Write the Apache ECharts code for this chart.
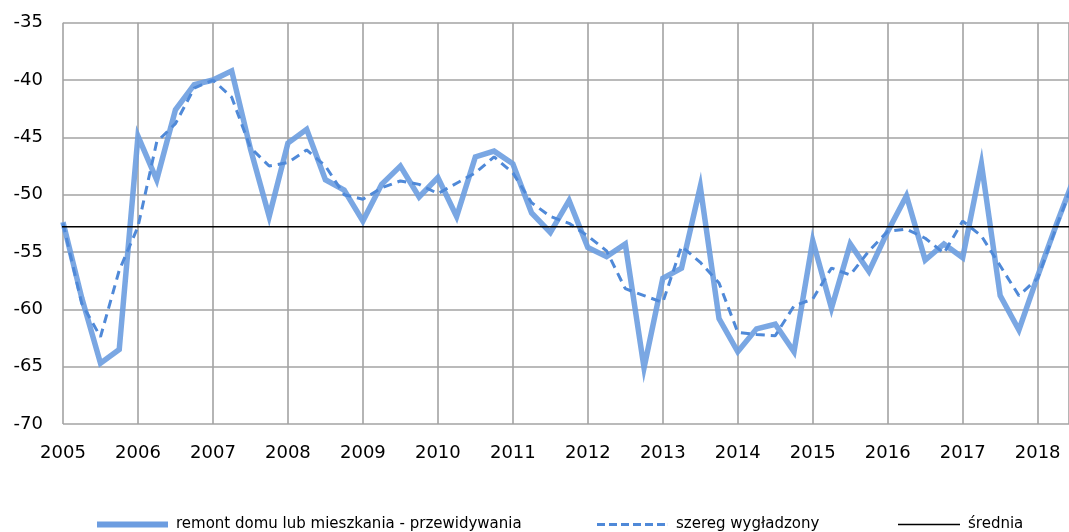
<!DOCTYPE html>
<html>
<head>
<meta charset="utf-8">
<script src="https://cdn.jsdelivr.net/npm/echarts@6/dist/echarts.min.js"></script>
<style>
  html, body { margin: 0; padding: 0; background: #fff; }
  #chart { width: 1069px; height: 532px; }
</style>
</head>
<body>
<div id="chart"></div>
<script>
// Quarterly survey balance, first quarter of 2005 onward
const startYear = 2005;
const yearTicks = [2005, 2006, 2007, 2008, 2009, 2010, 2011, 2012, 2013, 2014, 2015, 2016, 2017, 2018];

const przewidywania = [
  -52.4, -59.0, -64.7, -63.5,
  -44.9, -48.7, -42.6, -40.4,
  -40.0, -39.2, -46.0, -51.9,
  -45.5, -44.3, -48.7, -49.6,
  -52.3, -49.1, -47.5, -50.2,
  -48.5, -51.9, -46.7, -46.2,
  -47.3, -51.6, -53.3, -50.5,
  -54.6, -55.4, -54.3, -65.1,
  -57.3, -56.4, -49.3, -60.8,
  -63.7, -61.7, -61.3, -63.7,
  -54.0, -59.9, -54.3, -56.7,
  -53.2, -50.1, -55.7, -54.3,
  -55.5, -47.3, -58.8, -61.8,
  -57.1, -52.6, -48.3
];

const wygladzony = [
  -52.5, -59.5, -62.4, -56.6,
  -52.8, -45.4, -43.8, -40.7,
  -40.0, -41.5, -45.9, -47.5,
  -47.2, -46.1, -47.5, -50.0,
  -50.4, -49.4, -48.8, -49.1,
  -49.9, -49.0, -48.1, -46.7,
  -48.1, -50.7, -51.9, -52.5,
  -53.6, -54.9, -58.2, -58.8,
  -59.4, -54.5, -55.9, -57.7,
  -62.0, -62.2, -62.3, -59.7,
  -59.1, -56.4, -57.0, -54.9,
  -53.2, -53.0, -53.8, -55.1,
  -52.3, -53.6, -56.2, -58.8,
  -57.3, -52.8, -48.5
];

const srednia = -52.8;

const seriesNames = ['remont domu lub mieszkania - przewidywania', 'szereg wygładzony', 'średnia'];

// quarter index -> fractional year on the x axis
const toPairs = arr => arr.map((v, k) => [startYear + k / 4, v]);
const lastX = startYear + (przewidywania.length - 1) / 4;

const FONT = 'DejaVu Sans';
const BLUE_MAIN = '#6c9de0';
const BLUE_DASH = '#4f89d8';

// legend swatches: a solid bar, a row of dashes, a thin rule
const iconBar = 'path://M0,0H71V6H0Z';
let dashPath = 'path://';
for (let x = 0; x < 71; x += 12) {
  const w = Math.min(8, 71 - x);
  dashPath += 'M' + x + ',0h' + w + 'v3h-' + w + 'Z';
}
dashPath += 'M70.9,0h0.1v3h-0.1Z';
const iconRule = 'path://M0,0H62V1.5H0Z';

const chart = echarts.init(document.getElementById('chart'), null, { renderer: 'canvas' });

function legendAt(left, name, icon, w, h, color) {
  return {
    orient: 'horizontal',
    top: 512,
    left: left,
    itemWidth: w,
    itemHeight: h,
    itemGap: 0,
    selectedMode: false,
    icon: icon,
    itemStyle: { color: color, borderWidth: 0 },
    textStyle: { fontFamily: FONT, fontSize: 15, color: '#000', padding: [0, 0, 0, 3] },
    data: [{ name: name, icon: icon, itemStyle: { color: color } }]
  };
}

chart.setOption({
  animation: false,
  backgroundColor: '#fff',
  grid: { left: 63, right: -1, top: 22.7, bottom: 108, containLabel: false },
  legend: [
    legendAt(92, seriesNames[0], iconBar, 71, 6, BLUE_MAIN),
    legendAt(592, seriesNames[1], dashPath, 71, 3, BLUE_DASH),
    legendAt(893, seriesNames[2], iconRule, 62, 1.5, '#000')
  ],
  xAxis: {
    type: 'value',
    min: 2005,
    max: 2018.418,
    interval: 1,
    axisLine: { show: false },
    axisTick: { show: false },
    axisLabel: {
      margin: 20,
      fontFamily: FONT,
      fontSize: 18,
      color: '#000',
      showMaxLabel: false,
      formatter: v => (yearTicks.indexOf(v) >= 0 ? String(v) : '')
    },
    splitLine: { show: true, lineStyle: { color: '#a3a3a3', width: 1.6 } }
  },
  yAxis: {
    type: 'value',
    min: -70,
    max: -35,
    interval: 5,
    axisLine: { show: false },
    axisTick: { show: false },
    axisLabel: { margin: 20, fontFamily: FONT, fontSize: 18, color: '#000' },
    splitLine: { show: true, lineStyle: { color: '#a3a3a3', width: 1.6 } }
  },
  series: [
    {
      name: seriesNames[0],
      type: 'line',
      data: toPairs(przewidywania),
      symbol: 'none',
      z: 3,
      itemStyle: { color: BLUE_MAIN },
      lineStyle: { color: BLUE_MAIN, width: 5.5, opacity: 0.9, join: 'miter' }
    },
    {
      name: seriesNames[1],
      type: 'line',
      data: toPairs(wygladzony),
      symbol: 'none',
      z: 4,
      itemStyle: { color: BLUE_DASH },
      lineStyle: { color: BLUE_DASH, width: 3, type: [9, 6] }
    },
    {
      name: seriesNames[2],
      type: 'line',
      data: [[startYear - 0.03, srednia], [lastX, srednia]],
      symbol: 'none',
      z: 5,
      clip: false,
      itemStyle: { color: '#000' },
      lineStyle: { color: '#000', width: 1.5 }
    }
  ]
});
</script>
</body>
</html>
